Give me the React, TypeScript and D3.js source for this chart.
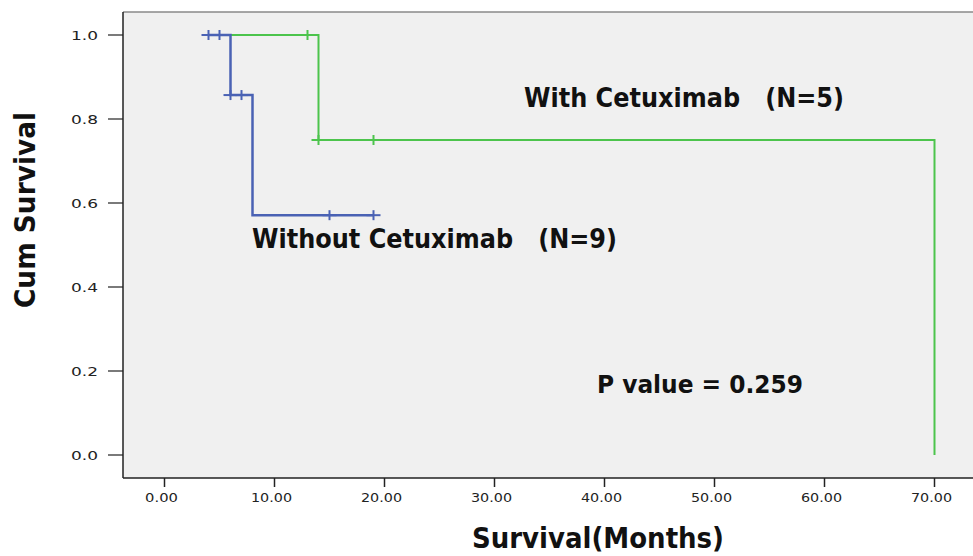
import React from "react";
import * as d3 from "d3";

// ---- data ----
const xTicks = [0, 10, 20, 30, 40, 50, 60, 70];
const yTicks = [0, 0.2, 0.4, 0.6, 0.8, 1.0];

// Without Cetuximab (N=9)
const blueStart = 4;
const blueEventTimes = [6, 8];
const blueSurv = [1.0, 0.857, 0.571];
const blueEnd = 19;
const blueCensorTimes = [4, 5, 6, 7, 15, 19];

// With Cetuximab (N=5)
const greenStart = 4;
const greenEventTimes = [14, 70];
const greenSurv = [1.0, 0.75, 0.0];
const greenEnd = 70;
const greenCensorTimes = [13, 14, 19];

const W = 973;
const H = 556;
const frameLeft = 123;
const frameTop = 12;
const frameBottom = 478;

const FONT = "'DejaVu Sans', 'Liberation Sans', Arial, sans-serif";

function stepPoints(start: number, events: number[], surv: number[], end: number) {
  const pts: [number, number][] = [[start, surv[0]]];
  events.forEach((t, i) => {
    pts.push([t, surv[i]]);
    pts.push([t, surv[i + 1]]);
  });
  const last = events[events.length - 1];
  if (end > last) pts.push([end, surv[surv.length - 1]]);
  return pts;
}

function survAt(t: number, events: number[], surv: number[]) {
  let s = surv[0];
  events.forEach((e, i) => {
    if (t >= e) s = surv[i + 1];
  });
  return s;
}

export default function App() {
  const x = d3.scaleLinear().domain([0, 70]).range([164.5, 934.5]);
  const y = d3.scaleLinear().domain([0, 1]).range([455, 35]);
  const line = d3
    .line<[number, number]>()
    .x((d) => x(d[0]))
    .y((d) => y(d[1]));

  const blue = "#4a62b4";
  const green = "#4cc44c";

  const bluePts = stepPoints(blueStart, blueEventTimes, blueSurv, blueEnd);
  const greenPts = stepPoints(greenStart, greenEventTimes, greenSurv, greenEnd);

  const censor = (t: number, s: number, color: string, key: string) => (
    <g key={key} stroke={color} strokeWidth={2}>
      <line x1={x(t) - 7} x2={x(t) + 7} y1={y(s)} y2={y(s)} />
      <line x1={x(t)} x2={x(t)} y1={y(s) - 5} y2={y(s) + 5} />
    </g>
  );

  return (
    <svg width={W} height={H} style={{ position: "absolute", left: 0, top: 0, background: "#fff" }}>
      <rect x={frameLeft} y={frameTop} width={W - frameLeft} height={frameBottom - frameTop} fill="#f0f0f0" />
      <line x1={frameLeft} x2={W} y1={frameTop} y2={frameTop} stroke="#8a8a8a" strokeWidth={1.5} />
      <line x1={frameLeft} x2={frameLeft} y1={frameTop} y2={frameBottom} stroke="#222" strokeWidth={1.5} />
      <line x1={frameLeft} x2={W} y1={frameBottom} y2={frameBottom} stroke="#222" strokeWidth={1.5} />

      {yTicks.map((v) => (
        <g key={"y" + v}>
          <line x1={frameLeft - 15} x2={frameLeft} y1={y(v)} y2={y(v)} stroke="#222" strokeWidth={1.2} />
          <text x={98} y={y(v) + 4.5} textAnchor="end" fontFamily={FONT} fontSize={12} fill="#222"
            textLength={27} lengthAdjust="spacingAndGlyphs">
            {v.toFixed(1)}
          </text>
        </g>
      ))}
      {xTicks.map((v) => {
        const label = v.toFixed(2);
        return (
          <g key={"x" + v}>
            <line x1={x(v)} x2={x(v)} y1={frameBottom} y2={frameBottom + 9} stroke="#222" strokeWidth={1.5} />
            <text x={x(v) - 3} y={502} textAnchor="middle" fontFamily={FONT} fontSize={12} fill="#222"
              textLength={label.length * 8.2} lengthAdjust="spacingAndGlyphs">
              {label}
            </text>
          </g>
        );
      })}

      <path d={line(greenPts) || ""} fill="none" stroke={green} strokeWidth={2} />
      {greenCensorTimes.map((t, i) => censor(t, survAt(t, greenEventTimes, greenSurv), green, "gc" + i))}
      <path d={line(bluePts) || ""} fill="none" stroke={blue} strokeWidth={2.5} />
      {blueCensorTimes.map((t, i) => censor(t, survAt(t, blueEventTimes, blueSurv), blue, "bc" + i))}

      <text x={524} y={107} fontFamily={FONT} fontWeight="bold" fontSize={26} fill="#111"
        textLength={320} lengthAdjust="spacingAndGlyphs" xmlSpace="preserve">
        {"With Cetuximab   (N=5)"}
      </text>
      <text x={252} y={248} fontFamily={FONT} fontWeight="bold" fontSize={26} fill="#111"
        textLength={365} lengthAdjust="spacingAndGlyphs" xmlSpace="preserve">
        {"Without Cetuximab   (N=9)"}
      </text>
      <text x={597} y={393} fontFamily={FONT} fontWeight="bold" fontSize={25} fill="#111"
        textLength={206} lengthAdjust="spacingAndGlyphs">
        P value = 0.259
      </text>
      <text x={472} y={548} fontFamily={FONT} fontWeight="bold" fontSize={28} fill="#111"
        textLength={252} lengthAdjust="spacingAndGlyphs">
        Survival(Months)
      </text>
      <text transform="translate(35,210) rotate(-90)" textAnchor="middle" fontFamily={FONT} fontWeight="bold"
        fontSize={28} fill="#111" textLength={196} lengthAdjust="spacingAndGlyphs">
        Cum Survival
      </text>
    </svg>
  );
}
